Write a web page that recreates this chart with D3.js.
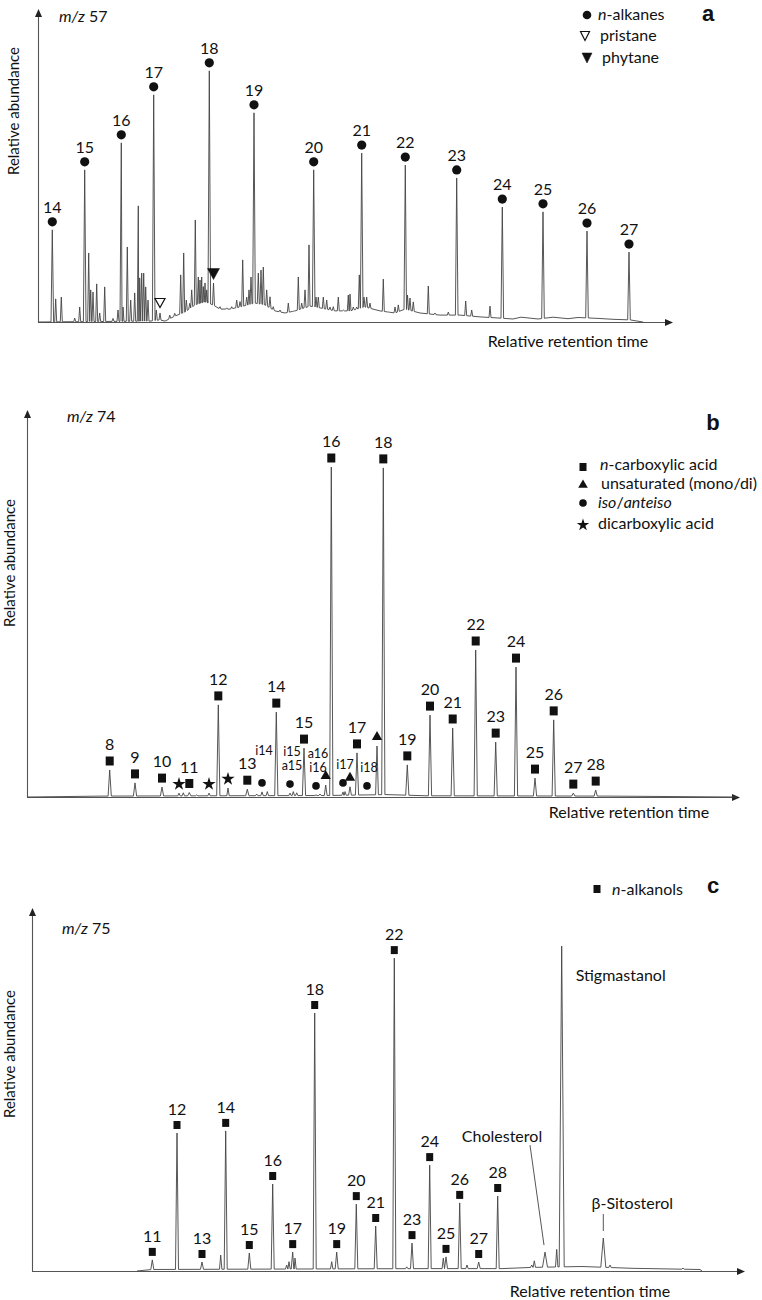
<!DOCTYPE html>
<html><head><meta charset="utf-8">
<script src="https://cdn.jsdelivr.net/npm/d3@7"></script>
<style>
body{margin:0;background:#fff;}
text{font-family:Lato,"Open Sans",sans-serif;fill:#111;}
</style></head><body>
<svg id="chart" width="762" height="1300"></svg>
<script>
// ================= DATA =================
// ---- Panel a : m/z 57 (retention time in min, abundance in arbitrary units) ----
const aAlkaneCarbon = [14,15,16,17,18,19,20,21,22,23,24,25,26,27];
const aAlkaneRt     = [1.43,4.67,8.33,11.57,17.13,21.6,27.57,32.37,36.73,41.87,46.43,50.5,54.9,59.1];
const aAlkaneAbund  = [30.7,50.7,59.7,75.7,83.7,69.7,50.7,56.3,52.3,48,38.3,36.7,30.3,23.3];
const aPristaneRt = [12.2],  aPristaneAbund = [3];
const aPhytaneRt  = [17.55], aPhytaneAbund  = [13];
const aMinorRt = [1.77,2.33,3.67,4.17,5.07,5.27,5.5,5.87,6.17,6.67,7.5,8.0,8.5,8.93,9.27,9.67,10.03,10.17,10.37,10.57,10.77,11.0,11.83,
  13.17,13.67,14.27,14.57,14.83,15.17,15.37,15.73,16.03,16.2,16.37,16.53,16.7,16.87,18.2,18.87,19.37,19.87,20.2,20.47,20.87,21.1,21.3,
  22.03,22.3,22.53,22.87,23.2,23.53,24.2,25.03,25.53,26.03,26.37,26.7,27.1,27.8,28.03,28.53,28.87,29.2,29.53,30.03,30.53,31.03,31.2,
  31.53,31.87,32.13,32.6,32.87,33.2,34.53,35.03,35.7,36.03,36.95,37.2,37.53,39.03,39.7,41.03,42.77,43.37,45.2];
const aMinorAbund = [7.7,8.3,1.3,5,23,10.7,10,12.7,3,11.7,1.2,4,5,25,7.3,9.7,38.7,14.7,16.3,16.3,11.7,7.3,4,
  2.3,2.9,15.7,23,7.3,6.2,10.7,34,15,14,15,11.8,13,10.7,5.1,4.7,5.1,7.3,6.8,20.7,8.3,10.7,15,
  16.3,17.3,18.3,10.7,8.4,5.1,4,6.3,3.4,15,6.3,10.7,25.7,8.3,8.3,8.3,7.3,5,5.1,8.3,4,9,9.3,
  5,5,15.7,8.3,8.3,6.3,14.3,3,5,5.7,9,8,6.7,12,3,3.3,7,4,5.3];
const aBaseRt    = [0,11.2,12.2,12.7,13.7,14.7,15.7,16.7,17.5,18.2,19.2,20.2,21.7,22.7,23.7,24.7,25.7,27.2,28.2,29.7,31.2,32.7,34.2,35.7,36.7,38.2,40.2,42.2,44.2,46.2,47.5,48.3,50.0,51.5,53.0,54.0,56.0,57.5,59.2,60.5];
const aBaseAbund = [0,0.3,0.7,0.3,2,3.3,5.7,6.7,5.7,4.3,4.3,5,6.3,5.7,3.7,3,3.7,5.3,4.7,3.7,3.7,5,3.7,3,4.3,3,2.3,2.3,1.7,1.3,1.0,1.6,1.0,1.6,1.1,1.5,1.2,0.9,0.7,0];

// ---- Panel b : m/z 74 ----
const bAcidCarbon = [8,9,10,11,12,13,14,15,16,17,18,19,20,21,22,23,24,25,26,27,28];
const bAcidRt     = [8.27,10.8,13.5,16.23,19.13,22.03,24.93,27.7,30.43,33.0,35.63,38.03,40.3,42.57,44.87,46.87,48.9,50.8,52.67,54.63,56.87];
const bAcidAbund  = [9,4.7,3.3,1.5,30.7,2.6,28.3,16.3,110,14.7,109.7,10.7,27.3,23,49,18.3,43.3,6.3,25.7,1.3,2.3];
const bUnsatRt    = [29.87,32.3,35.0];
const bUnsatAbund = [4,3.4,17];
const bIsoLabels  = [["i14",""],["i15","a15"],["a16","i16"],["i17"],["i18"]];
const bIsoRt      = [23.5,26.3,28.9,31.6,34.0];
const bIsoAbund   = [1.7,1.3,0.7,1.7,0.7];
const bDiacidRt    = [15.2,18.2,20.1];
const bDiacidAbund = [1.3,1.3,3];
const bMinorRt    = [15.63,16.97,22.97,24.03,26.63,26.97,29.3,31.8];
const bMinorAbund = [1.4,0.7,1,1.8,1.8,1.4,1,1.8];
const bBaseRt     = [0,7.5,30,36,40,58,71];
const bBaseAbund  = [0,0.3,0.5,0.8,0.4,0.3,0];

// ---- Panel c : m/z 75 ----
const cAlkanolCarbon = [11,12,13,14,15,16,17,18,19,20,21,22,23,24,25,26,27,28];
const cAlkanolRt     = [12.03,14.5,17.0,19.37,21.73,24.07,26.07,28.27,30.47,32.43,34.37,36.23,38.0,39.77,41.4,42.77,44.67,46.57];
const cAlkanolAbund  = [3.7,46,3,46.7,6,29,6.3,86,6.3,22.3,15,104.3,9.3,35.3,4.7,22.7,3,25];
const cSterolNames = ["Cholesterol","Stigmastanol","β-Sitosterol"];
const cSterolRt    = [51.3,52.97,57.13];
const cSterolAbund = [6.3,108.3,11];
const cMinorRt    = [18.87,25.47,25.7,26.3,29.97,37.47,41.13,43.5,49.97,50.23,52.47,57.8,65.1];
const cMinorAbund = [5.3,2,3.1,4.3,3.1,1.4,4.3,2,2,3.4,7.2,2,1];
const cBaseRt     = [10.5,12,20,30,40,47,50,55,60,66.8,67];
const cBaseAbund  = [0,0.5,0.6,0.7,0.8,0.8,1.2,1.5,0.9,0.5,0];

// ================= DRAWING =================
const svg = d3.select("#chart");
const FS = 16;   // main text size

function makePanel(L){
  const x = d3.scaleLinear().domain([0,L.xMax]).range([L.x0,L.x1]);
  const y = d3.scaleLinear().domain([0,L.yMax]).range([L.yb,L.yt]);
  const g = svg.append("g");
  const [xa,xb] = x.range(), [yb,yt] = y.range();
  g.append("line").attr("x1",xa).attr("x2",xb-5).attr("y1",yb+0.5).attr("y2",yb+0.5).attr("stroke","#555").attr("stroke-width",1.1);
  g.append("line").attr("x1",xa+0.5).attr("x2",xa+0.5).attr("y1",yb).attr("y2",yt+5).attr("stroke","#555").attr("stroke-width",1.1);
  g.append("path").attr("d",`M${xb},${yb+0.5}L${xb-8},${yb-3}L${xb-8},${yb+4}Z`).attr("fill","#222");
  g.append("path").attr("d",`M${xa+0.5},${yt}L${xa-3},${yt+8}L${xa+4},${yt+8}Z`).attr("fill","#222");
  return {x,y,g};
}

function drawTrace(P, baseRt, baseAb, peaks){
  const base = d3.scaleLinear().domain(baseRt).range(baseAb).clamp(true);
  const pts = [];
  baseRt.forEach((r,i)=>{ if(!peaks.some(p=>Math.abs(p.rt-r)<p.w)) pts.push([r,baseAb[i]]); });
  peaks.forEach(p=>{
    pts.push([p.rt-p.w, base(p.rt-p.w)], [p.rt, Math.max(p.ab, base(p.rt))], [p.rt+p.w, base(p.rt+p.w)]);
  });
  pts.sort((a,b)=>a[0]-b[0]);
  P.g.append("path").datum(pts)
    .attr("d", d3.line().x(d=>P.x(d[0])).y(d=>P.y(d[1])))
    .attr("fill","none").attr("stroke","#444").attr("stroke-width",0.9).attr("stroke-linejoin","round");
}

function zipPeaks(rt, ab, w){ return rt.map((r,i)=>({rt:r, ab:ab[i], w:w})); }

function txt(g, x, y, s, size, anchor){
  return g.append("text").attr("x",x).attr("y",y).attr("font-size",size).attr("text-anchor",anchor||"middle").text(s);
}
function italicPrefix(g, x, y, ital, rest, size, anchor){
  const t = g.append("text").attr("x",x).attr("y",y).attr("font-size",size).attr("text-anchor",anchor||"start");
  t.append("tspan").attr("font-style","italic").text(ital);
  t.append("tspan").text(rest);
  return t;
}
function yTitle(g, cx, cy){
  g.append("text").attr("transform",`translate(${cx},${cy}) rotate(-90)`).attr("text-anchor","middle")
    .attr("dominant-baseline","central").attr("font-size",15).text("Relative abundance");
}
function letter(g, x, y, s){
  g.append("text").attr("x",x).attr("y",y).attr("text-anchor","middle").attr("font-size",22)
   .attr("font-weight","bold").style("font-family","'Liberation Sans',Arial,sans-serif").text(s);
}
function square(g, cx, cy, w, h){ g.append("rect").attr("x",cx-w/2).attr("y",cy-h/2).attr("width",w).attr("height",h).attr("fill","#111"); }
function sym(g, type, size, cx, cy){ g.append("path").attr("d",d3.symbol().type(type).size(size)()).attr("transform",`translate(${cx},${cy})`).attr("fill","#111"); }
function triDown(g, cx, cy, w, h, filled){
  g.append("path").attr("d",`M${cx-w/2},${cy-h/2}L${cx+w/2},${cy-h/2}L${cx},${cy+h/2}Z`)
   .attr("fill",filled?"#111":"#fff").attr("stroke","#111").attr("stroke-width",filled?0.5:1.2);
}

// ---------- Panel a ----------
{
  const P = makePanel({x0:38,x1:673,yb:322,yt:9,xMax:63.5,yMax:104.3});
  const peaks = zipPeaks(aAlkaneRt,aAlkaneAbund,0.13)
    .concat(zipPeaks(aPristaneRt,aPristaneAbund,0.1))
    .concat(zipPeaks(aPhytaneRt,aPhytaneAbund,0.1))
    .concat(zipPeaks(aMinorRt,aMinorAbund,0.1));
  drawTrace(P, aBaseRt, aBaseAbund, peaks);
  aAlkaneRt.forEach((r,i)=>{
    const cx = P.x(r), cy = P.y(aAlkaneAbund[i]) - 8;
    P.g.append("circle").attr("cx",cx).attr("cy",cy).attr("r",4.6).attr("fill","#111");
    txt(P.g, cx, cy-9, aAlkaneCarbon[i], FS);
  });
  aPristaneRt.forEach((r,i)=> triDown(P.g, P.x(r), P.y(aPristaneAbund[i])-10, 10, 9, false));
  aPhytaneRt.forEach((r,i)=> triDown(P.g, P.x(r), P.y(aPhytaneAbund[i])-9, 12, 11, true));
  italicPrefix(P.g, 59, 22, "m/z", " 57", FS);
  yTitle(P.g, 13, 111);
  txt(P.g, 568, 347, "Relative retention time", FS);
  letter(P.g, 708, 21, "a");
  // legend
  P.g.append("circle").attr("cx",587).attr("cy",15).attr("r",4.3).attr("fill","#111");
  italicPrefix(P.g, 598, 20, "n", "-alkanes", FS);
  triDown(P.g, 585, 36, 9, 9, false);
  txt(P.g, 600, 41, "pristane", FS, "start");
  triDown(P.g, 587, 58, 10, 10, true);
  txt(P.g, 602, 63, "phytane", FS, "start");
}

// ---------- Panel b ----------
{
  const P = makePanel({x0:27,x1:740,yb:797,yt:410,xMax:71.3,yMax:129});
  const peaks = zipPeaks(bAcidRt,bAcidAbund,0.16)
    .concat(zipPeaks(bUnsatRt,bUnsatAbund,0.14))
    .concat(zipPeaks(bIsoRt,bIsoAbund,0.12))
    .concat(zipPeaks(bDiacidRt,bDiacidAbund,0.12))
    .concat(zipPeaks(bMinorRt,bMinorAbund,0.12));
  drawTrace(P, bBaseRt, bBaseAbund, peaks);
  bAcidRt.forEach((r,i)=>{
    const cx = P.x(r), cy = P.y(bAcidAbund[i]) - 9;
    square(P.g, cx, cy, 8, 9);
    txt(P.g, cx, cy-11, bAcidCarbon[i], FS);
  });
  bUnsatRt.forEach((r,i)=> sym(P.g, d3.symbolTriangle, 46, P.x(r), P.y(bUnsatAbund[i])-9));
  bDiacidRt.forEach((r,i)=> sym(P.g, d3.symbolStar, 55, P.x(r), P.y(bDiacidAbund[i])-9));
  bIsoRt.forEach((r,i)=>{
    const cx = P.x(r), cy = P.y(bIsoAbund[i]) - 9;
    P.g.append("circle").attr("cx",cx).attr("cy",cy).attr("r",3.8).attr("fill","#111");
    const lines = bIsoLabels[i];
    lines.forEach((s,j)=> txt(P.g, cx+2, cy-14-(lines.length-1-j)*14, s, 12.5));
  });
  italicPrefix(P.g, 67, 422, "m/z", " 74", FS);
  yTitle(P.g, 9, 563);
  txt(P.g, 629, 818, "Relative retention time", FS);
  letter(P.g, 713, 430, "b");
  square(P.g, 583, 467, 7, 8);
  italicPrefix(P.g, 600, 470, "n", "-carboxylic acid", FS);
  sym(P.g, d3.symbolTriangle, 40, 583, 485);
  txt(P.g, 601, 489, "unsaturated (mono/di)", FS, "start");
  P.g.append("circle").attr("cx",583).attr("cy",503).attr("r",3.8).attr("fill","#111");
  const t = P.g.append("text").attr("x",598).attr("y",508).attr("font-size",FS);
  t.append("tspan").attr("font-style","italic").text("iso");
  t.append("tspan").text("/");
  t.append("tspan").attr("font-style","italic").text("anteiso");
  sym(P.g, d3.symbolStar, 48, 583, 525);
  txt(P.g, 598, 529, "dicarboxylic acid", FS, "start");
}

// ---------- Panel c ----------
{
  const P = makePanel({x0:32,x1:745,yb:1271,yt:908,xMax:71.3,yMax:121});
  const peaks = zipPeaks(cAlkanolRt,cAlkanolAbund,0.15)
    .concat(cSterolRt.map((r,i)=>({rt:r, ab:cSterolAbund[i], w:0.25})))
    .concat(zipPeaks(cMinorRt,cMinorAbund,0.12));
  drawTrace(P, cBaseRt, cBaseAbund, peaks);
  cAlkanolRt.forEach((r,i)=>{
    const cx = P.x(r), cy = P.y(cAlkanolAbund[i]) - 8;
    square(P.g, cx, cy, 7, 8);
    txt(P.g, cx, cy-10, cAlkanolCarbon[i], FS);
  });
  // sterol annotations
  const sx = cSterolRt.map(r=>P.x(r)), sy = cSterolAbund.map(a=>P.y(a));
  txt(P.g, sx[0]-43, sy[0]-110, cSterolNames[0], FS);
  P.g.append("line").attr("x1",sx[0]-15).attr("y1",sy[0]-107).attr("x2",sx[0]-1).attr("y2",sy[0]-7).attr("stroke","#444").attr("stroke-width",0.9);
  txt(P.g, sx[1]+14, sy[1]+35, cSterolNames[1], FS, "start");
  txt(P.g, sx[2]+29, sy[2]-29, cSterolNames[2], FS);
  P.g.append("line").attr("x1",sx[2]).attr("y1",sy[2]-24).attr("x2",sx[2]).attr("y2",sy[2]-7).attr("stroke","#444").attr("stroke-width",0.9);
  italicPrefix(P.g, 62, 934, "m/z", " 75", FS);
  yTitle(P.g, 9, 1054);
  txt(P.g, 590, 1297, "Relative retention time", FS);
  letter(P.g, 713, 893, "c");
  square(P.g, 597, 889, 7, 8);
  italicPrefix(P.g, 612, 895, "n", "-alkanols", FS);
}
</script>
</body></html>
